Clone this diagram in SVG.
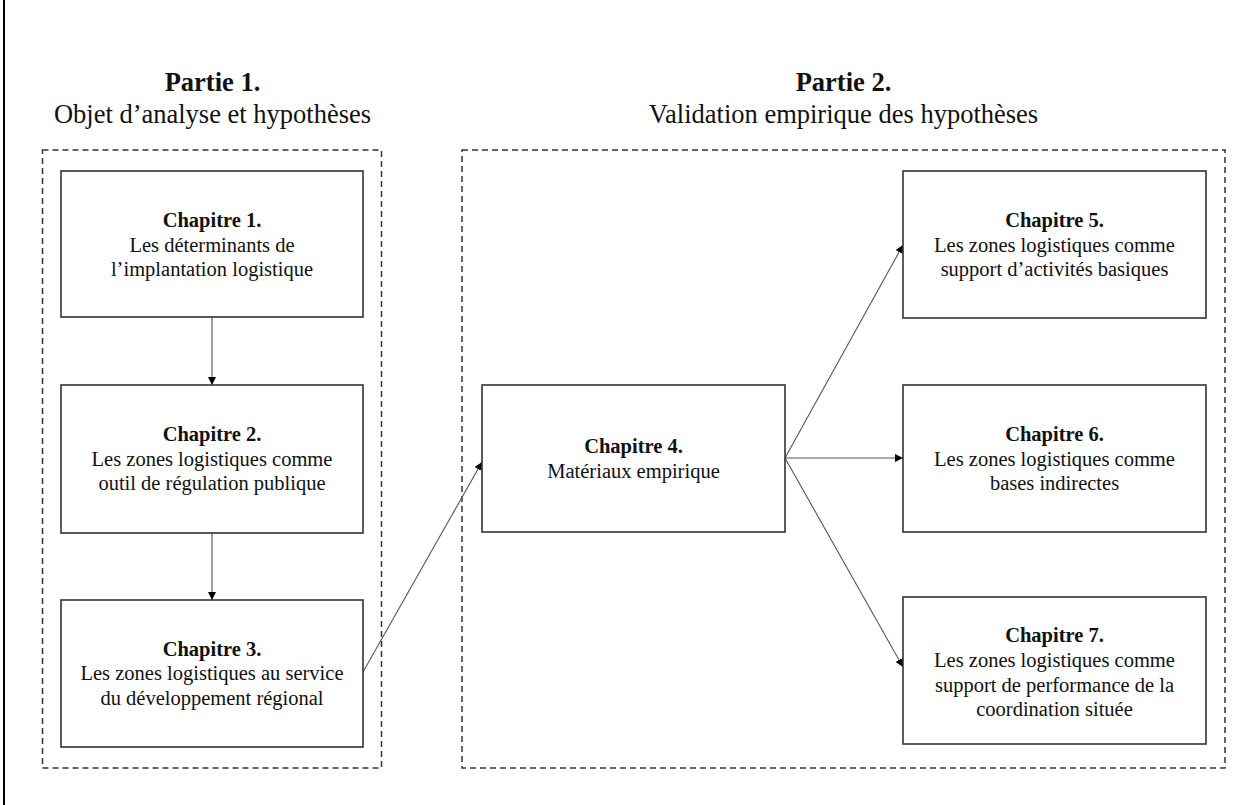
<svg xmlns="http://www.w3.org/2000/svg" width="1238" height="805" viewBox="0 0 1238 805">
<defs>
<style>
.t{font-family:"Liberation Serif","Times New Roman",serif;fill:#111;text-anchor:middle}
.ti{font-size:26.5px}
.tx{font-size:20.5px}
.b{font-weight:bold}
.box{fill:#fff;stroke:#333;stroke-width:1.6}
.dash{fill:none;stroke:#333;stroke-width:1.5;stroke-dasharray:6 4}
.c{fill:none;stroke:#555;stroke-width:1.1;marker-end:url(#ah)}
</style>
<marker id="ah" viewBox="0 0 10 10" refX="10" refY="5" markerWidth="8" markerHeight="8" markerUnits="userSpaceOnUse" orient="auto">
<path d="M0,0 L10,5 L0,10 Z" fill="#000"/>
</marker>
</defs>
<rect width="1238" height="805" fill="#fff"/>
<line x1="4" y1="0" x2="4" y2="805" stroke="#000" stroke-width="2"/>

<g id="partie1">
<text class="t ti b" x="212.5" y="91">Partie 1.</text>
<text class="t ti" x="212.5" y="123">Objet d’analyse et hypothèses</text>
<rect class="dash" x="42.5" y="150" width="339" height="618"/>
</g>
<g id="partie2">
<text class="t ti b" x="843.5" y="91">Partie 2.</text>
<text class="t ti" x="843.5" y="123">Validation empirique des hypothèses</text>
<rect class="dash" x="462" y="150" width="763" height="618"/>
</g>

<g id="connectors">
<line class="c" x1="212" y1="317" x2="212" y2="385"/>
<line class="c" x1="212" y1="533" x2="212" y2="600"/>
<line class="c" x1="363" y1="672" x2="482" y2="462"/>
<line class="c" x1="785" y1="458" x2="903" y2="245"/>
<line class="c" x1="785" y1="458" x2="903" y2="458"/>
<line class="c" x1="785" y1="458" x2="903" y2="667"/>
</g>

<g id="ch1">
<rect class="box" x="61" y="171" width="302" height="146"/>
<text class="t tx b" x="212" y="227">Chapitre 1.</text>
<text class="t tx" x="212" y="251.5">Les déterminants de</text>
<text class="t tx" x="212" y="276">l’implantation logistique</text>
</g>
<g id="ch2">
<rect class="box" x="61" y="385" width="302" height="148"/>
<text class="t tx b" x="212" y="441">Chapitre 2.</text>
<text class="t tx" x="212" y="465.5">Les zones logistiques comme</text>
<text class="t tx" x="212" y="490">outil de régulation publique</text>
</g>
<g id="ch3">
<rect class="box" x="61" y="600" width="302" height="147"/>
<text class="t tx b" x="212" y="655.5">Chapitre 3.</text>
<text class="t tx" x="212" y="680">Les zones logistiques au service</text>
<text class="t tx" x="212" y="704.5">du développement régional</text>
</g>
<g id="ch4">
<rect class="box" x="482" y="385" width="303" height="147"/>
<text class="t tx b" x="633.5" y="453">Chapitre 4.</text>
<text class="t tx" x="633.5" y="478">Matériaux empirique</text>
</g>
<g id="ch5">
<rect class="box" x="903" y="171" width="303" height="147"/>
<text class="t tx b" x="1054.5" y="227">Chapitre 5.</text>
<text class="t tx" x="1054.5" y="251.5">Les zones logistiques comme</text>
<text class="t tx" x="1054.5" y="276">support d’activités basiques</text>
</g>
<g id="ch6">
<rect class="box" x="903" y="385" width="303" height="147"/>
<text class="t tx b" x="1054.5" y="441">Chapitre 6.</text>
<text class="t tx" x="1054.5" y="465.5">Les zones logistiques comme</text>
<text class="t tx" x="1054.5" y="490">bases indirectes</text>
</g>
<g id="ch7">
<rect class="box" x="903" y="597" width="303" height="147"/>
<text class="t tx b" x="1054.5" y="642">Chapitre 7.</text>
<text class="t tx" x="1054.5" y="667">Les zones logistiques comme</text>
<text class="t tx" x="1054.5" y="691.5">support de performance de la</text>
<text class="t tx" x="1054.5" y="716">coordination située</text>
</g>
</svg>
